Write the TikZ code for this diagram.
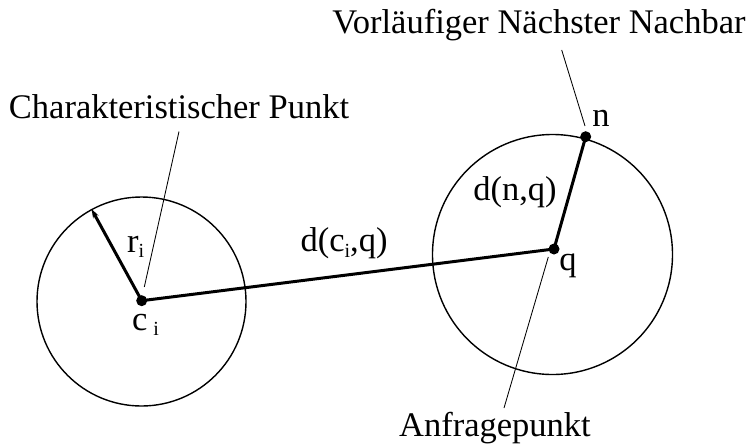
\documentclass[tikz,border=0pt]{standalone}
\usepackage{fontspec}
\setmainfont{Liberation Serif}
\usetikzlibrary{arrows.meta}
\newcommand{\sbi}{\raisebox{-0.35ex}{\fontsize{20}{20}\selectfont i}}
\tikzset{
  lbl/.style={font=\fontsize{34.5}{38}\selectfont, inner sep=0pt, anchor=base},
  ring/.style={line width=1.4pt},
  thickline/.style={line width=3pt},
  leader/.style={line width=0.85pt},
  dotn/.style={circle, fill=black, inner sep=0pt, minimum size=11pt}
}
\begin{document}
\begin{tikzpicture}[x=1pt,y=-1pt]
\useasboundingbox (0,0) rectangle (752,445);
% centres
\coordinate (lc) at (141.5,301.5);
\coordinate (rc) at (552.5,254.5);
\draw[ring] (lc) circle[radius=104.5pt];
\draw[ring] (rc) circle[radius=120pt];
% points
\node[dotn] (c) at (141.7,300.7) {};
\node[dotn] (q) at (554,249) {};
\node[dotn] (n) at (585.7,136.7) {};
\coordinate (rend) at (91.5,209);
% thick lines
\draw[thickline] (c.center) -- (q.center);
\draw[thickline] (q.center) -- (n.center);
\draw[thickline, -{Stealth[length=9pt,width=6pt]}] (c.center) -- (rend);
% labels
\node[lbl] (tcp) at (179,118.3) {Charakteristischer Punkt};
\node[lbl] (tvn) at (539,33) {Vorläufiger Nächster Nachbar};
\node[lbl] (tan) at (495,436) {Anfragepunkt};
\node[lbl] (tn) at (601,126) {n};
\node[lbl] (tq) at (568,270) {q};
\node[lbl] (tdnq) at (515,200) {d(n,q)};
\node[lbl, anchor=base west] (tr) at (127,252) {r\sbi};
\node[lbl, anchor=base west] (tc) at (132,330) {c\,\sbi};
\node[lbl] (tdcq) at (344,251.5) {d(c\sbi,q)};
% leader lines
\coordinate (l1a) at (179,131.5);
\coordinate (l1b) at (144.3,287);
\draw[leader] (l1a) -- (l1b);
\coordinate (l2a) at (561.7,50);
\coordinate (l2b) at (585,126);
\draw[leader] (l2a) -- (l2b);
\coordinate (l3a) at (548.3,257);
\coordinate (l3b) at (504,408);
\draw[leader] (l3a) -- (l3b);
\end{tikzpicture}
\end{document}
